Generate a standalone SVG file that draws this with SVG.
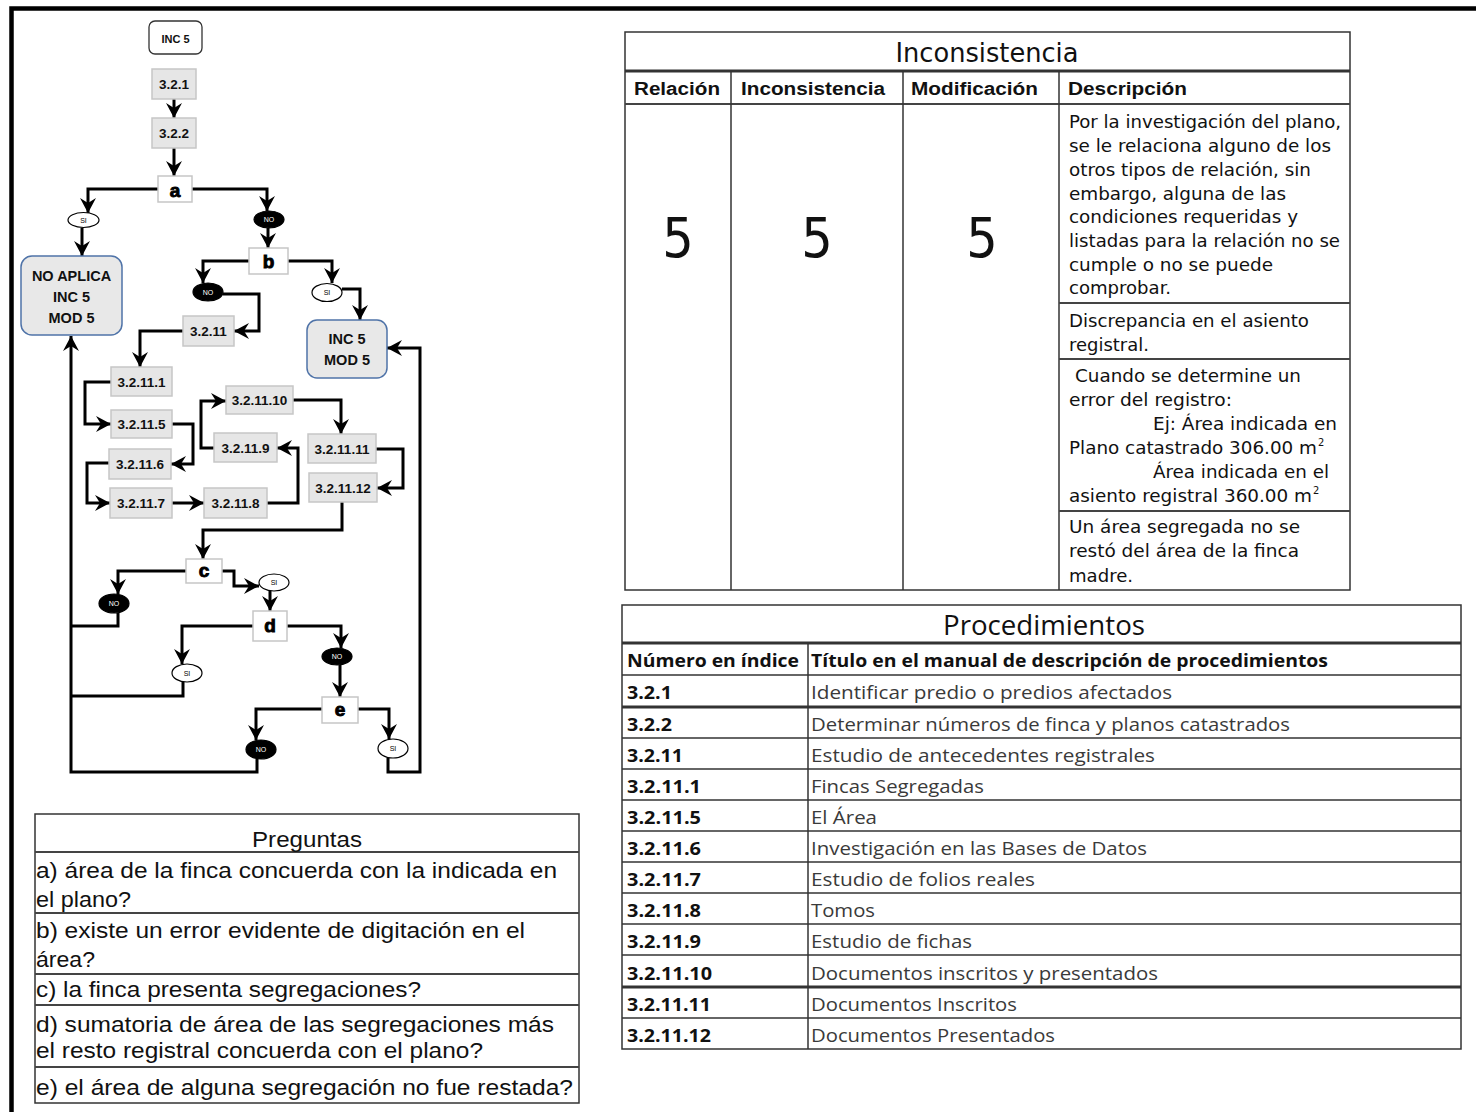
<svg xmlns="http://www.w3.org/2000/svg" width="1476" height="1112" viewBox="0 0 1476 1112">
<style>
.frame{fill:none;stroke:#000;stroke-width:4.5}
.c{fill:none;stroke:#000;stroke-width:3;stroke-linejoin:miter}
.ca{fill:none;stroke:#000;stroke-width:3;stroke-linejoin:miter;marker-end:url(#ah)}
.p{fill:#e6e6e6;stroke:#c6c6c6;stroke-width:1.5}
.q{fill:#fff;stroke:#c6c6c6;stroke-width:1.5}
.t{fill:#e8e8e8;stroke:#4f73a8;stroke-width:1.5}
.st{fill:#fff;stroke:#333;stroke-width:1.3}
.pt{font-family:"Liberation Sans",Arial,sans-serif;font-weight:bold;font-size:13.5px;fill:#111;text-anchor:middle}
.tt{font-family:"Liberation Sans",Arial,sans-serif;font-weight:bold;font-size:14.5px;fill:#111;text-anchor:middle}
.qt{font-family:"Liberation Sans",Arial,sans-serif;font-weight:900;font-size:19px;fill:#000;stroke:#000;stroke-width:0.9;text-anchor:middle}
.ey{fill:#fff;stroke:#000;stroke-width:1.2}
.en{fill:#000;stroke:#000;stroke-width:1.2}
.eyt{font-family:"Liberation Sans",Arial,sans-serif;font-size:7px;fill:#000;text-anchor:middle}
.ent{font-family:"Liberation Sans",Arial,sans-serif;font-size:7px;fill:#fff;text-anchor:middle}
.tb{fill:none;stroke:#333;stroke-width:1.5}
.tk{fill:none;stroke:#333;stroke-width:3}
.tm{fill:none;stroke:#444;stroke-width:2}
.ititle{font-family:"DejaVu Sans Condensed","DejaVu Sans",sans-serif;font-size:26px;fill:#111;text-anchor:middle}
.ihead{font-family:"Liberation Sans",Arial,sans-serif;font-weight:bold;font-size:18px;fill:#111}
.ibig{font-family:"DejaVu Sans Condensed","DejaVu Sans",sans-serif;font-size:55px;fill:#111;text-anchor:middle}
.idesc{font-family:"DejaVu Sans Condensed","DejaVu Sans",sans-serif;font-size:17.5px;fill:#111}
.isup{font-family:"DejaVu Sans Condensed","DejaVu Sans",sans-serif;font-size:11px;fill:#111}
.ptitle{font-family:"Open Sans","Liberation Sans",sans-serif;font-size:27px;fill:#111;text-anchor:middle}
.phead{font-family:"Open Sans","Liberation Sans",sans-serif;font-weight:bold;font-size:18px;fill:#111}
.pnum{font-family:"Open Sans","Liberation Sans",sans-serif;font-weight:bold;font-size:18px;fill:#111}
.pdesc{font-family:"Open Sans","Liberation Sans",sans-serif;font-size:18px;fill:#3a3a3a}
.qtitle{font-family:"Liberation Sans",Arial,sans-serif;font-size:22px;fill:#111;text-anchor:middle}
.qline{font-family:"Liberation Sans",Arial,sans-serif;font-size:21.5px;fill:#111}
</style>
<defs>
<marker id="ah" markerUnits="userSpaceOnUse" viewBox="-16 -9 17 18" refX="0" refY="0" markerWidth="17" markerHeight="18" orient="auto">
<path d="M0,0 L-15,-8 L-10,0 L-15,8 Z" fill="#000"/>
</marker>
</defs>
<rect x="0" y="0" width="1476" height="1112" fill="#fff"/>
<path class="frame" d="M11.5,1112 V8.5 H1476"/>

<g id="connectors">
<path class="ca" d="M174,99 V118"/>
<path class="ca" d="M174,148 V176"/>
<path class="ca" d="M158,189 H88 V213"/>
<path class="ca" d="M82,228 V256"/>
<path class="ca" d="M192,189 H267 V211"/>
<path class="ca" d="M268,228 V248"/>
<path class="ca" d="M249,261 H203 V283"/>
<path class="ca" d="M223,294 H259 V331 H234"/>
<path class="ca" d="M288,261 H332 V283"/>
<path class="ca" d="M342,289 H360 V320"/>
<path class="ca" d="M183,331 H140 V367"/>
<path class="ca" d="M111,382 H85 V424 H111"/>
<path class="ca" d="M172,424 H193 V464 H171"/>
<path class="ca" d="M109,463 H87 V503 H110"/>
<path class="ca" d="M172,503 H204"/>
<path class="ca" d="M267,503 H298 V448 H277"/>
<path class="ca" d="M214,448 H201 V401 H226"/>
<path class="ca" d="M293,400 H341 V434"/>
<path class="ca" d="M376,449 H403 V488 H377"/>
<path class="ca" d="M342,502 V530 H203 V559"/>
<path class="ca" d="M186,571 H118 V594"/>
<path class="c" d="M118,613 V626 H71"/>
<path class="ca" d="M222,571 H234 V586 H259"/>
<path class="ca" d="M270,591 V611"/>
<path class="ca" d="M253,626 H182 V664"/>
<path class="c" d="M183,682 V696 H71"/>
<path class="ca" d="M287,626 H341 V648"/>
<path class="ca" d="M340,665 V697"/>
<path class="ca" d="M322,709 H256 V740"/>
<path class="ca" d="M257,759 V772 H71 V336"/>
<path class="ca" d="M358,709 H389 V739"/>
<path class="ca" d="M388,758 V772 H420 V348 H387"/>
</g>

<g id="n-start"><rect class="st" x="149" y="21" width="53" height="33" rx="6"/><text class="pt" style="font-size:11px" x="175.5" y="43">INC 5</text></g>
<g id="n-321"><rect class="p" x="152" y="69" width="44" height="30"/><text class="pt" x="174" y="89">3.2.1</text></g>
<g id="n-322"><rect class="p" x="152" y="118" width="44" height="30"/><text class="pt" x="174" y="138">3.2.2</text></g>
<g id="n-a"><rect class="q" x="158" y="176" width="34" height="26"/><text class="qt" x="175" y="197">a</text></g>
<g id="n-a-si"><ellipse class="ey" cx="83.5" cy="220" rx="15.5" ry="7.5"/><text class="eyt" x="83.5" y="222.5">SI</text></g>
<g id="n-a-no"><ellipse class="en" cx="269" cy="219.5" rx="15" ry="8.5"/><text class="ent" x="269" y="222">NO</text></g>
<g id="n-noaplica"><rect class="t" x="21" y="256" width="101" height="79" rx="11"/><text class="tt" x="71.5" y="281">NO APLICA</text><text class="tt" x="71.5" y="302">INC 5</text><text class="tt" x="71.5" y="323">MOD 5</text></g>
<g id="n-b"><rect class="q" x="249" y="248" width="39" height="26"/><text class="qt" x="268.5" y="268">b</text></g>
<g id="n-b-no"><ellipse class="en" cx="208" cy="292" rx="15" ry="9"/><text class="ent" x="208" y="294.5">NO</text></g>
<g id="n-b-si"><ellipse class="ey" cx="327" cy="292.5" rx="15" ry="9"/><text class="eyt" x="327" y="295">SI</text></g>
<g id="n-inc5mod5"><rect class="t" x="307" y="320" width="80" height="58" rx="10"/><text class="tt" x="347" y="344">INC 5</text><text class="tt" x="347" y="365">MOD 5</text></g>
<g id="n-3211"><rect class="p" x="183" y="316" width="51" height="30"/><text class="pt" x="208.5" y="336">3.2.11</text></g>
<g id="n-32111"><rect class="p" x="111" y="367" width="61" height="29"/><text class="pt" x="141.5" y="386.5">3.2.11.1</text></g>
<g id="n-32115"><rect class="p" x="111" y="410" width="61" height="28"/><text class="pt" x="141.5" y="429">3.2.11.5</text></g>
<g id="n-32116"><rect class="p" x="109" y="449" width="62" height="30"/><text class="pt" x="140" y="469">3.2.11.6</text></g>
<g id="n-32117"><rect class="p" x="110" y="488" width="62" height="30"/><text class="pt" x="141" y="508">3.2.11.7</text></g>
<g id="n-32118"><rect class="p" x="204" y="488" width="63" height="30"/><text class="pt" x="235.5" y="508">3.2.11.8</text></g>
<g id="n-32119"><rect class="p" x="214" y="433" width="63" height="29"/><text class="pt" x="245.5" y="452.5">3.2.11.9</text></g>
<g id="n-321110"><rect class="p" x="226" y="386" width="67" height="28"/><text class="pt" x="259.5" y="405">3.2.11.10</text></g>
<g id="n-321111"><rect class="p" x="308" y="434" width="68" height="29"/><text class="pt" x="342" y="453.5">3.2.11.11</text></g>
<g id="n-321112"><rect class="p" x="309" y="473" width="68" height="29"/><text class="pt" x="343" y="492.5">3.2.11.12</text></g>
<g id="n-c"><rect class="q" x="186" y="559" width="36" height="24"/><text class="qt" x="204" y="577">c</text></g>
<g id="n-c-no"><ellipse class="en" cx="114" cy="603.5" rx="15" ry="9.5"/><text class="ent" x="114" y="606">NO</text></g>
<g id="n-c-si"><ellipse class="ey" cx="274" cy="582.5" rx="15" ry="8.5"/><text class="eyt" x="274" y="585">SI</text></g>
<g id="n-d"><rect class="q" x="253" y="611" width="34" height="30"/><text class="qt" x="270" y="632">d</text></g>
<g id="n-d-si"><ellipse class="ey" cx="187" cy="673" rx="15" ry="9"/><text class="eyt" x="187" y="675.5">SI</text></g>
<g id="n-d-no"><ellipse class="en" cx="337" cy="656.5" rx="15" ry="8.5"/><text class="ent" x="337" y="659">NO</text></g>
<g id="n-e"><rect class="q" x="322" y="697" width="36" height="26"/><text class="qt" x="340" y="716">e</text></g>
<g id="n-e-no"><ellipse class="en" cx="261" cy="749.5" rx="15" ry="9.5"/><text class="ent" x="261" y="752">NO</text></g>
<g id="n-e-si"><ellipse class="ey" cx="393" cy="748.5" rx="15" ry="9.5"/><text class="eyt" x="393" y="751">SI</text></g>

<g id="tabla-inconsistencia">
<rect class="tb" x="625" y="32" width="725" height="558"/>
<line class="tk" x1="625" y1="71" x2="1350" y2="71"/>
<line class="tm" x1="625" y1="104" x2="1350" y2="104"/>
<line class="tb" x1="731" y1="71" x2="731" y2="590"/>
<line class="tb" x1="903" y1="71" x2="903" y2="590"/>
<line class="tb" x1="1059" y1="71" x2="1059" y2="590"/>
<line class="tm" x1="1059" y1="303" x2="1350" y2="303"/>
<line class="tm" x1="1059" y1="359" x2="1350" y2="359"/>
<line class="tm" x1="1059" y1="511" x2="1350" y2="511"/>
<text class="ititle" x="987" y="62" textLength="183" lengthAdjust="spacingAndGlyphs">Inconsistencia</text>
<text class="ihead" x="634" y="95" textLength="86" lengthAdjust="spacingAndGlyphs">Relación</text>
<text class="ihead" x="741" y="95" textLength="144" lengthAdjust="spacingAndGlyphs">Inconsistencia</text>
<text class="ihead" x="911" y="95" textLength="127" lengthAdjust="spacingAndGlyphs">Modificación</text>
<text class="ihead" x="1068" y="95" textLength="119" lengthAdjust="spacingAndGlyphs">Descripción</text>
<text class="ibig" x="678" y="257">5</text>
<text class="ibig" x="817" y="257">5</text>
<text class="ibig" x="982" y="257">5</text>
<text class="idesc" x="1069" y="128" textLength="272" lengthAdjust="spacingAndGlyphs">Por la investigación del plano,</text>
<text class="idesc" x="1069" y="152" textLength="262" lengthAdjust="spacingAndGlyphs">se le relaciona alguno de los</text>
<text class="idesc" x="1069" y="176" textLength="242" lengthAdjust="spacingAndGlyphs">otros tipos de relación, sin</text>
<text class="idesc" x="1069" y="200" textLength="217" lengthAdjust="spacingAndGlyphs">embargo, alguna de las</text>
<text class="idesc" x="1069" y="223" textLength="229" lengthAdjust="spacingAndGlyphs">condiciones requeridas y</text>
<text class="idesc" x="1069" y="247" textLength="271" lengthAdjust="spacingAndGlyphs">listadas para la relación no se</text>
<text class="idesc" x="1069" y="271" textLength="204" lengthAdjust="spacingAndGlyphs">cumple o no se puede</text>
<text class="idesc" x="1069" y="294" textLength="102" lengthAdjust="spacingAndGlyphs">comprobar.</text>
<text class="idesc" x="1069" y="327" textLength="240" lengthAdjust="spacingAndGlyphs">Discrepancia en el asiento</text>
<text class="idesc" x="1069" y="351" textLength="80" lengthAdjust="spacingAndGlyphs">registral.</text>
<text class="idesc" x="1075" y="382" textLength="226" lengthAdjust="spacingAndGlyphs">Cuando se determine un</text>
<text class="idesc" x="1069" y="406" textLength="163" lengthAdjust="spacingAndGlyphs">error del registro:</text>
<text class="idesc" x="1153" y="430" textLength="184" lengthAdjust="spacingAndGlyphs">Ej: Área indicada en</text>
<text class="idesc" x="1069" y="454" textLength="248" lengthAdjust="spacingAndGlyphs">Plano catastrado 306.00 m</text>
<text class="isup" x="1318" y="446">2</text>
<text class="idesc" x="1153" y="478" textLength="176" lengthAdjust="spacingAndGlyphs">Área indicada en el</text>
<text class="idesc" x="1069" y="502" textLength="243" lengthAdjust="spacingAndGlyphs">asiento registral 360.00 m</text>
<text class="isup" x="1313" y="494">2</text>
<text class="idesc" x="1069" y="533" textLength="231" lengthAdjust="spacingAndGlyphs">Un área segregada no se</text>
<text class="idesc" x="1069" y="557" textLength="230" lengthAdjust="spacingAndGlyphs">restó del área de la finca</text>
<text class="idesc" x="1069" y="582" textLength="64" lengthAdjust="spacingAndGlyphs">madre.</text>
</g>

<g id="tabla-procedimientos">
<rect class="tb" x="622" y="605" width="839" height="444"/>
<line class="tk" x1="622" y1="643" x2="1461" y2="643"/>
<line class="tb" x1="622" y1="675" x2="1461" y2="675"/>
<line class="tk" x1="622" y1="707" x2="1461" y2="707"/>
<line class="tb" x1="622" y1="738" x2="1461" y2="738"/>
<line class="tb" x1="622" y1="769" x2="1461" y2="769"/>
<line class="tb" x1="622" y1="800" x2="1461" y2="800"/>
<line class="tb" x1="622" y1="831" x2="1461" y2="831"/>
<line class="tb" x1="622" y1="862" x2="1461" y2="862"/>
<line class="tb" x1="622" y1="893" x2="1461" y2="893"/>
<line class="tb" x1="622" y1="924" x2="1461" y2="924"/>
<line class="tb" x1="622" y1="955" x2="1461" y2="955"/>
<line class="tk" x1="622" y1="987" x2="1461" y2="987"/>
<line class="tb" x1="622" y1="1018" x2="1461" y2="1018"/>
<line class="tb" x1="808" y1="643" x2="808" y2="1049"/>
<text class="ptitle" x="1044" y="635" textLength="202" lengthAdjust="spacingAndGlyphs">Procedimientos</text>
<text class="phead" x="627" y="667" textLength="172" lengthAdjust="spacingAndGlyphs">Número en índice</text>
<text class="phead" x="811" y="667" textLength="517" lengthAdjust="spacingAndGlyphs">Título en el manual de descripción de procedimientos</text>
<text class="pnum" x="627" y="699" textLength="45" lengthAdjust="spacingAndGlyphs">3.2.1</text>
<text class="pnum" x="627" y="731" textLength="45" lengthAdjust="spacingAndGlyphs">3.2.2</text>
<text class="pnum" x="627" y="762" textLength="56" lengthAdjust="spacingAndGlyphs">3.2.11</text>
<text class="pnum" x="627" y="793" textLength="74" lengthAdjust="spacingAndGlyphs">3.2.11.1</text>
<text class="pnum" x="627" y="824" textLength="74" lengthAdjust="spacingAndGlyphs">3.2.11.5</text>
<text class="pnum" x="627" y="855" textLength="74" lengthAdjust="spacingAndGlyphs">3.2.11.6</text>
<text class="pnum" x="627" y="886" textLength="74" lengthAdjust="spacingAndGlyphs">3.2.11.7</text>
<text class="pnum" x="627" y="917" textLength="74" lengthAdjust="spacingAndGlyphs">3.2.11.8</text>
<text class="pnum" x="627" y="948" textLength="74" lengthAdjust="spacingAndGlyphs">3.2.11.9</text>
<text class="pnum" x="627" y="980" textLength="85" lengthAdjust="spacingAndGlyphs">3.2.11.10</text>
<text class="pnum" x="627" y="1011" textLength="84" lengthAdjust="spacingAndGlyphs">3.2.11.11</text>
<text class="pnum" x="627" y="1042" textLength="84" lengthAdjust="spacingAndGlyphs">3.2.11.12</text>
<text class="pdesc" x="811" y="699" textLength="361" lengthAdjust="spacingAndGlyphs">Identificar predio o predios afectados</text>
<text class="pdesc" x="811" y="731" textLength="479" lengthAdjust="spacingAndGlyphs">Determinar números de finca y planos catastrados</text>
<text class="pdesc" x="811" y="762" textLength="344" lengthAdjust="spacingAndGlyphs">Estudio de antecedentes registrales</text>
<text class="pdesc" x="811" y="793" textLength="173" lengthAdjust="spacingAndGlyphs">Fincas Segregadas</text>
<text class="pdesc" x="811" y="824" textLength="66" lengthAdjust="spacingAndGlyphs">El Área</text>
<text class="pdesc" x="811" y="855" textLength="336" lengthAdjust="spacingAndGlyphs">Investigación en las Bases de Datos</text>
<text class="pdesc" x="811" y="886" textLength="224" lengthAdjust="spacingAndGlyphs">Estudio de folios reales</text>
<text class="pdesc" x="811" y="917" textLength="64" lengthAdjust="spacingAndGlyphs">Tomos</text>
<text class="pdesc" x="811" y="948" textLength="161" lengthAdjust="spacingAndGlyphs">Estudio de fichas</text>
<text class="pdesc" x="811" y="980" textLength="347" lengthAdjust="spacingAndGlyphs">Documentos inscritos y presentados</text>
<text class="pdesc" x="811" y="1011" textLength="206" lengthAdjust="spacingAndGlyphs">Documentos Inscritos</text>
<text class="pdesc" x="811" y="1042" textLength="244" lengthAdjust="spacingAndGlyphs">Documentos Presentados</text>
</g>

<g id="tabla-preguntas">
<rect class="tb" x="35" y="814" width="544" height="289"/>
<line class="tm" x1="35" y1="852" x2="579" y2="852"/>
<line class="tm" x1="35" y1="913" x2="579" y2="913"/>
<line class="tm" x1="35" y1="974" x2="579" y2="974"/>
<line class="tm" x1="35" y1="1005" x2="579" y2="1005"/>
<line class="tm" x1="35" y1="1067" x2="579" y2="1067"/>
<text class="qtitle" x="307" y="847" textLength="110" lengthAdjust="spacingAndGlyphs">Preguntas</text>
<text class="qline" x="36" y="878" textLength="521" lengthAdjust="spacingAndGlyphs">a) área de la finca concuerda con la indicada en</text>
<text class="qline" x="36" y="907" textLength="95" lengthAdjust="spacingAndGlyphs">el plano?</text>
<text class="qline" x="36" y="938" textLength="489" lengthAdjust="spacingAndGlyphs">b) existe un error evidente de digitación en el</text>
<text class="qline" x="36" y="967" textLength="59" lengthAdjust="spacingAndGlyphs">área?</text>
<text class="qline" x="36" y="997" textLength="385" lengthAdjust="spacingAndGlyphs">c) la finca presenta segregaciones?</text>
<text class="qline" x="36" y="1032" textLength="518" lengthAdjust="spacingAndGlyphs">d) sumatoria de área de las segregaciones más</text>
<text class="qline" x="36" y="1058" textLength="447" lengthAdjust="spacingAndGlyphs">el resto registral concuerda con el plano?</text>
<text class="qline" x="36" y="1095" textLength="537" lengthAdjust="spacingAndGlyphs">e) el área de alguna segregación no fue restada?</text>
</g>
</svg>
